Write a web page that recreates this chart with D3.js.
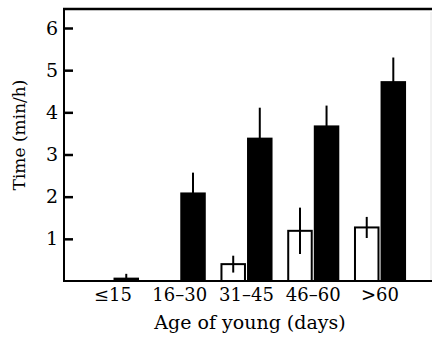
<!DOCTYPE html>
<html>
<head>
<script src="https://d3js.org/d3.v7.min.js"></script>
<style>
  body { margin: 0; background: #fff; }
  svg { font-family: "DejaVu Serif", serif; }
</style>
</head>
<body>
<svg id="chart" width="432" height="337"></svg>
<script>
// age classes of the young
const ageClasses = ['≤15', '16–30', '31–45', '46–60', '>60'];
// open bars (null = no bar)
const openMean = [null, null, 0.40, 1.19, 1.27];
const openErr  = [null, null, 0.20, 0.55, 0.25];
// filled bars
const filledMean = [0.08, 2.10, 3.40, 3.69, 4.74];
const filledErr  = [0.09, 0.47, 0.71, 0.47, 0.56];
const yTicks = [1, 2, 3, 4, 5, 6];

const svg = d3.select('#chart');

let x0 = d3.scaleBand()
           .domain(ageClasses)
           .range([79.6, 413.4])
           .paddingInner(0.22)
           .paddingOuter(0.11);

let x1 = d3.scaleBand()
           .domain(['open', 'filled'])
           .range([0, x0.bandwidth()])
           .paddingInner(0.04);

let y = d3.scaleLinear()
          .domain([0, 6])
          .range([281, 28]);

// rows for drawing
let rows = [];
ageClasses.forEach((c, i) => {
    if (openMean[i] !== null) rows.push({cat: c, kind: 'open', m: openMean[i], e: openErr[i]});
    rows.push({cat: c, kind: 'filled', m: filledMean[i], e: filledErr[i]});
});

// bars
svg.append('g').selectAll('rect')
   .data(rows)
   .join('rect')
   .attr('x', d => x0(d.cat) + x1(d.kind) + (d.kind == 'open' ? 1 : 0))
   .attr('width', d => x1.bandwidth() - (d.kind == 'open' ? 2 : 0))
   .attr('y', d => y(d.m))
   .attr('height', d => y(0) - y(d.m))
   .attr('fill', d => d.kind == 'open' ? '#fff' : '#000')
   .attr('stroke', d => d.kind == 'open' ? '#000' : 'none')
   .attr('stroke-width', 2);

// error bars
svg.append('g').selectAll('line')
   .data(rows)
   .join('line')
   .attr('x1', d => x0(d.cat) + x1(d.kind) + x1.bandwidth() / 2)
   .attr('x2', d => x0(d.cat) + x1(d.kind) + x1.bandwidth() / 2)
   .attr('y1', d => y(Math.max(0, d.m - d.e)))
   .attr('y2', d => y(d.m + d.e))
   .attr('stroke', '#000')
   .attr('stroke-width', 2);

// y axis, ticks pointing inward
let yAxis = svg.append('g')
   .attr('transform', 'translate(64,0)')
   .call(d3.axisLeft(y).tickValues(yTicks).tickFormat(d3.format('d'))
           .tickSizeInner(-9).tickSizeOuter(0).tickPadding(6));
yAxis.select('.domain').remove();
yAxis.selectAll('.tick line').attr('stroke', '#000').attr('stroke-width', 2.5);
yAxis.selectAll('.tick text').attr('font-size', 19).attr('font-family', '"DejaVu Serif", serif').attr('fill', '#000');

// frame: left axis, top line, baseline
svg.append('line').attr('x1', 64).attr('x2', 64).attr('y1', 8).attr('y2', 282)
   .attr('stroke', '#000').attr('stroke-width', 2);
svg.append('line').attr('x1', 63).attr('x2', 432).attr('y1', y(6.45)).attr('y2', y(6.45))
   .attr('stroke', '#000').attr('stroke-width', 2.5);
svg.append('line').attr('x1', 63).attr('x2', 432).attr('y1', y(0)).attr('y2', y(0))
   .attr('stroke', '#000').attr('stroke-width', 2);
svg.append('line').attr('x1', 431).attr('x2', 431).attr('y1', 12).attr('y2', 280)
   .attr('stroke', '#e4e4e4').attr('stroke-width', 1);

// x axis labels
let xAxis = svg.append('g')
   .attr('transform', 'translate(0,' + y(0) + ')')
   .call(d3.axisBottom(x0).tickSize(0).tickPadding(7));
xAxis.select('.domain').remove();
xAxis.selectAll('.tick text').attr('font-size', 18).attr('font-family', '"DejaVu Serif", serif').attr('fill', '#000');

// axis titles
svg.append('text')
   .attr('x', 250).attr('y', 329)
   .attr('text-anchor', 'middle')
   .attr('font-size', 19)
   .text('Age of young (days)');

svg.append('text')
   .attr('transform', 'translate(25,135) rotate(-90)')
   .attr('text-anchor', 'middle')
   .attr('font-size', 17)
   .text('Time (min/h)');
</script>
</body>
</html>
